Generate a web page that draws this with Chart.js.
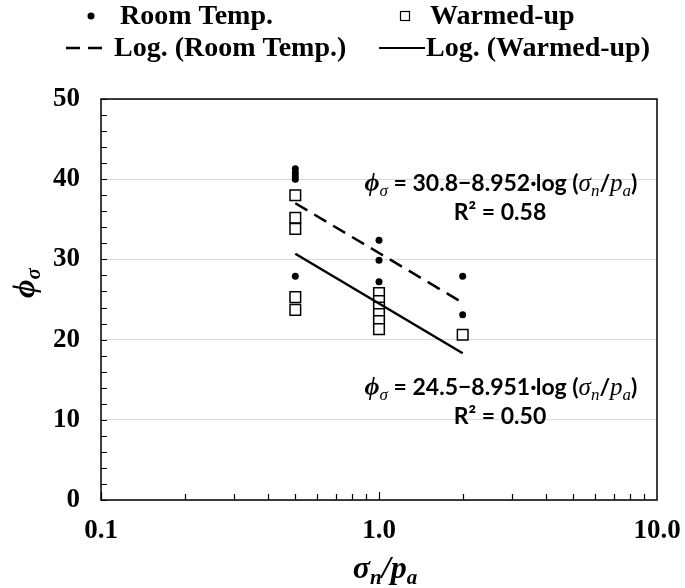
<!DOCTYPE html>
<html>
<head>
<meta charset="utf-8">
<script src="https://cdn.jsdelivr.net/npm/chart.js@4.4.0/dist/chart.umd.min.js"></script>
<style>
    html, body { margin: 0; padding: 0; background: #fff; }
</style>
</head>
<body>
<canvas id="grafico" width="685" height="588"></canvas>
<script>
// valores
const xRoomTemp = [0.5, 0.5, 0.5, 0.5, 0.5, 1, 1, 1, 2, 2];
const yRoomTemp = [41.3, 40.8, 40.4, 40.0, 27.9, 32.4, 29.9, 27.2, 27.9, 23.1];
const xWarmedUp = [0.5, 0.5, 0.5, 0.5, 0.5, 1, 1, 1, 1, 1, 1, 2];
const yWarmedUp = [38.0, 35.2, 33.8, 25.3, 23.7, 25.8, 24.8, 24.0, 23.2, 22.3, 21.3, 20.6];
const xTickLabels = [0.1, 1, 10];
const yTicks = [0, 10, 20, 30, 40, 50];
const fitX = [0.5, 1, 2];
const fitRoomTemp = [30.8, -8.952];   // a + b*ln(x)
const fitWarmedUp = [24.5, -8.951];
const r2RoomTemp = '0.58';
const r2WarmedUp = '0.50';

const serif = '"Liberation Serif", "DejaVu Serif", serif';
const sans = 'Lato, "Liberation Sans", sans-serif';

function pontos(xs, ys) {
    return xs.map((x, i) => ({ x: x, y: ys[i] }));
}
function curva(coef) {
    return fitX.map(x => ({ x: x, y: coef[0] + coef[1] * Math.log(x) }));
}

function desenhaPartes(ctx, partes, cx, y) {
    let total = 0;
    partes.forEach(p => { ctx.font = p.f; p.w = ctx.measureText(p.t).width; total += p.w; });
    let x = cx - total / 2;
    partes.forEach(p => { ctx.font = p.f; ctx.fillText(p.t, x, y + (p.dy || 0)); x += p.w; });
}

function equacao(coef) {
    const fi = 'italic bold 26px ' + serif;
    const sub = 'italic 17px ' + serif;
    const it = 'italic 25px ' + serif;
    const txt = 'bold 23px ' + sans;
    return [
        { t: 'ϕ', f: fi },
        { t: 'σ', f: sub, dy: 5 },
        { t: ' = ' + coef[0].toFixed(1) + '−' + Math.abs(coef[1]).toFixed(3) + '·log (', f: txt },
        { t: 'σ', f: it },
        { t: 'n', f: sub, dy: 5 },
        { t: '/', f: txt },
        { t: 'p', f: it },
        { t: 'a', f: sub, dy: 5 },
        { t: ')', f: txt }
    ];
}

const decoracoes = {
    id: 'decoracoes',
    afterDraw(chart) {
        const ctx = chart.ctx;
        const area = chart.chartArea;
        const sx = chart.scales.x;
        const sy = chart.scales.y;
        ctx.save();
        ctx.strokeStyle = '#000';
        ctx.fillStyle = '#000';

        // moldura
        ctx.lineWidth = 1.5;
        ctx.strokeRect(area.left, area.top, area.right - area.left, area.bottom - area.top);

        // ticks internos
        ctx.lineWidth = 1.2;
        ctx.beginPath();
        for (let d of [0.1, 1]) {
            for (let k = 1; k <= 9; k++) {
                const px = Math.round(sx.getPixelForValue(k * d)) + 0.5;
                const len = k === 1 ? 8 : 6;
                ctx.moveTo(px, area.bottom);
                ctx.lineTo(px, area.bottom - len);
            }
        }
        for (let v = 0; v <= 50; v += 2) {
            const py = Math.round(sy.getPixelForValue(v)) + 0.5;
            ctx.moveTo(area.left, py);
            ctx.lineTo(area.left + 6, py);
        }
        ctx.stroke();

        // títulos dos eixos
        ctx.textBaseline = 'alphabetic';
        ctx.textAlign = 'left';
        desenhaPartes(ctx, [
            { t: 'σ', f: 'italic bold 32px ' + serif },
            { t: 'n', f: 'italic bold 21px ' + serif, dy: 6 },
            { t: '/', f: 'italic bold 32px ' + serif },
            { t: 'p', f: 'italic bold 32px ' + serif },
            { t: 'a', f: 'italic bold 21px ' + serif, dy: 6 }
        ], 385, 578);

        ctx.save();
        ctx.translate(34, 283);
        ctx.rotate(-Math.PI / 2);
        desenhaPartes(ctx, [
            { t: 'ϕ', f: 'italic bold 32px ' + serif },
            { t: 'σ', f: 'italic bold 21px ' + serif, dy: 6 }
        ], 0, 0);
        ctx.restore();

        // equações das tendências
        desenhaPartes(ctx, equacao(fitRoomTemp), 501, 191);
        ctx.font = 'bold 23px ' + sans;
        ctx.textAlign = 'center';
        ctx.fillText('R² = ' + r2RoomTemp, 500, 220);
        ctx.textAlign = 'left';
        desenhaPartes(ctx, equacao(fitWarmedUp), 501, 395);
        ctx.font = 'bold 23px ' + sans;
        ctx.textAlign = 'center';
        ctx.fillText('R² = ' + r2WarmedUp, 500, 424);

        // legenda
        ctx.textAlign = 'left';
        ctx.textBaseline = 'middle';
        ctx.font = 'bold 28px ' + serif;
        ctx.beginPath();
        ctx.arc(91, 16, 3.5, 0, Math.PI * 2);
        ctx.fill();
        ctx.fillText('Room Temp.', 120, 17);
        ctx.lineWidth = 1.2;
        ctx.strokeRect(400.5, 11.5, 9, 9);
        ctx.fillText('Warmed-up', 430, 17);

        ctx.lineWidth = 2.5;
        ctx.setLineDash([14, 8]);
        ctx.beginPath();
        ctx.moveTo(66, 48);
        ctx.lineTo(110, 48);
        ctx.stroke();
        ctx.setLineDash([]);
        ctx.fillText('Log. (Room Temp.)', 114, 49);
        ctx.lineWidth = 2;
        ctx.beginPath();
        ctx.moveTo(379, 48);
        ctx.lineTo(425, 48);
        ctx.stroke();
        ctx.fillText('Log. (Warmed-up)', 426, 49);

        ctx.restore();
    }
};

const grafico = new Chart(document.getElementById('grafico').getContext('2d'), {
    type: 'scatter',
    data: {
        datasets: [
            {
                label: 'Log. (Room Temp.)',
                data: curva(fitRoomTemp),
                showLine: true,
                borderColor: '#000',
                borderWidth: 2.5,
                borderDash: [14, 8],
                pointRadius: 0,
                order: 1
            },
            {
                label: 'Log. (Warmed-up)',
                data: curva(fitWarmedUp),
                showLine: true,
                borderColor: '#000',
                borderWidth: 2.5,
                pointRadius: 0,
                order: 2
            },
            {
                label: 'Warmed-up',
                data: pontos(xWarmedUp, yWarmedUp),
                pointStyle: 'rect',
                pointRadius: 7.5,
                backgroundColor: '#fff',
                borderColor: '#000',
                borderWidth: 1.5,
                order: 3
            },
            {
                label: 'Room Temp.',
                data: pontos(xRoomTemp, yRoomTemp),
                pointStyle: 'circle',
                pointRadius: 3.5,
                backgroundColor: '#000',
                borderColor: '#000',
                borderWidth: 0,
                order: 4
            }
        ]
    },
    options: {
        responsive: false,
        animation: false,
        layout: {
            padding: { top: 99, right: 28, bottom: 0, left: 0 }
        },
        plugins: {
            legend: { display: false },
            tooltip: { enabled: false }
        },
        scales: {
            x: {
                type: 'logarithmic',
                min: 0.1,
                max: 10,
                afterBuildTicks: function (scale) {
                    scale.ticks = xTickLabels.map(v => ({ value: v }));
                },
                afterFit: function (scale) {
                    scale.height = 88;
                    scale.paddingLeft = 0;
                    scale.paddingRight = 0;
                },
                grid: { display: false },
                border: { display: false },
                ticks: {
                    color: '#000',
                    padding: 7,
                    maxRotation: 0,
                    autoSkip: false,
                    callback: function (value) {
                        return Number(value).toFixed(1);
                    },
                    font: { size: 27, weight: 'bold', family: serif }
                }
            },
            y: {
                min: 0,
                max: 50,
                afterBuildTicks: function (scale) {
                    scale.ticks = yTicks.map(v => ({ value: v }));
                },
                afterFit: function (scale) {
                    scale.width = 101;
                },
                grid: {
                    color: '#d9d9d9',
                    lineWidth: 1,
                    drawTicks: false
                },
                border: { display: false },
                ticks: {
                    color: '#000',
                    padding: 21,
                    font: { size: 27, weight: 'bold', family: serif }
                }
            }
        }
    },
    plugins: [decoracoes]
});
</script>
</body>
</html>
